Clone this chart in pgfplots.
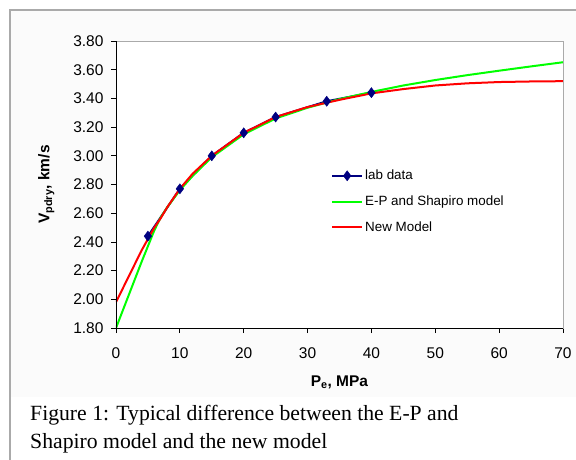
\documentclass[border=0pt]{standalone}
\usepackage{pgfplots}
\pgfplotsset{compat=1.18}
\usepackage{fontspec}
\setmainfont{Liberation Sans}
\newfontfamily\capfont{Liberation Serif}
\definecolor{navyc}{RGB}{0,0,128}
\definecolor{greenc}{RGB}{0,255,0}
\definecolor{redc}{RGB}{255,0,0}
\definecolor{framec}{RGB}{170,170,170}
\definecolor{chartbg}{RGB}{251,251,251}
\begin{document}
\begin{tikzpicture}
\useasboundingbox (0pt,0pt) rectangle (576pt,-460pt);
\fill[white] (0pt,0pt) rectangle (576pt,-460pt);
\fill[chartbg] (10pt,-10pt) rectangle (576pt,-397pt);
\draw[framec, line width=1.2pt] (10pt,-460pt) -- (10pt,-10pt) -- (576pt,-10pt);
\begin{axis}[
  at={(116pt,-328pt)}, anchor=south west,
  scale only axis, width=447pt, height=287pt,
  xmin=0, xmax=70, ymin=1.8, ymax=3.8,
  xtick={0,10,...,70}, ytick={1.8,2.0,...,3.81},
  axis background/.style={fill=white},
  axis line style={framec, line width=0.8pt},
  tick align=outside, xtick pos=bottom, ytick pos=left,
  major tick length=5pt,
  tick style={black, line width=0.8pt},
  /pgf/number format/assume math mode=true,
  yticklabel style={/pgf/number format/fixed, /pgf/number format/fixed zerofill, /pgf/number format/precision=2, xshift=-4pt},
  ticklabel style={font=\fontsize{15.5}{17}\selectfont},
  xticklabel style={yshift=-11pt},
  xlabel={\textbf{P\textsubscript{e}, MPa}},
  ylabel={\textbf{V\textsubscript{pdry}, km/s}},
  label style={font=\fontsize{15.5}{17}\selectfont},
  xlabel style={yshift=-10pt},
  ylabel style={yshift=12pt},
  legend style={at={(0.4765,0.5645)}, anchor=north west, draw=none, fill=none,
    font=\fontsize{13.4}{15}\selectfont, row sep=10.5pt, inner sep=2pt,
    /tikz/every even column/.append style={column sep=2pt}},
  legend cell align=left,
  legend image code/.code={\draw[#1, mark repeat=2, mark phase=2] plot coordinates {(0pt,0pt)(15pt,0pt)(30pt,0pt)};},
]
\addlegendimage{navyc, line width=2pt, mark=diamond*, mark size=5pt, mark options={fill=navyc, draw=navyc, line width=0.5pt}}
\addlegendimage{greenc, line width=2pt}
\addlegendimage{redc, line width=2pt}
\legend{lab data, E-P and Shapiro model, New Model}
\addplot[navyc, line width=2pt, forget plot] coordinates {(5,2.44)(10,2.77)(15,3.00)(20,3.16)(25,3.27)(33,3.38)(40,3.44)};
\addplot[greenc, line width=2pt, forget plot] coordinates {
(0,1.80)(2,2.03)(4,2.26)(5,2.37)(6,2.48)(7,2.57)(8,2.64)(10,2.76)(12,2.86)(15,2.99)(20,3.15)(25,3.26)(30,3.335)(35,3.395)(40,3.445)(45,3.49)(50,3.528)(55,3.562)(60,3.593)(65,3.623)(70,3.652)};
\addplot[redc, line width=2pt, forget plot] coordinates {
(0,1.98)(2,2.16)(4,2.34)(5,2.42)(6,2.50)(7,2.565)(8,2.64)(10,2.77)(12,2.875)(15,3.00)(20,3.16)(25,3.27)(30,3.34)(35,3.39)(40,3.435)(45,3.465)(50,3.49)(55,3.505)(60,3.514)(65,3.518)(70,3.52)};
\addplot[only marks, mark=diamond*, mark size=5pt, mark options={fill=navyc, draw=navyc, line width=0.5pt}, forget plot] coordinates {(5,2.44)(10,2.77)(15,3.00)(20,3.16)(25,3.27)(33,3.38)(40,3.44)};
\draw[black, line width=0.8pt] (axis cs:0,3.8) -- (axis cs:0,1.8) -- (axis cs:70,1.8);
\end{axis}
\node[anchor=base west, font=\capfont\fontsize{21.7}{26}\selectfont, inner sep=0pt] at (30pt,-420pt) {Figure 1: Typical difference between the E-P and};
\node[anchor=base west, font=\capfont\fontsize{21.7}{26}\selectfont, inner sep=0pt] at (30pt,-448pt) {Shapiro model and the new model};
\end{tikzpicture}
\end{document}
